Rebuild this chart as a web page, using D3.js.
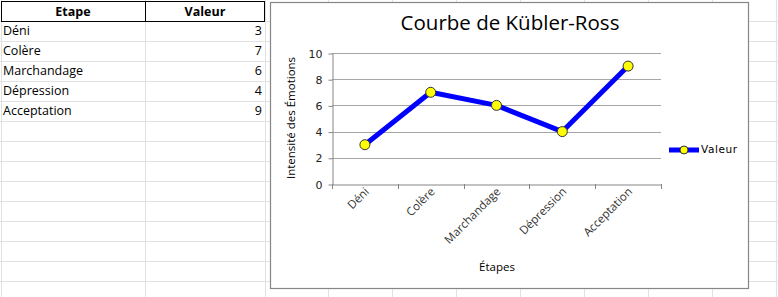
<!DOCTYPE html>
<html>
<head>
<meta charset="utf-8">
<script src="https://cdn.jsdelivr.net/npm/d3@7"></script>
<style>
  body { margin: 0; background: #fff; }
  svg text { font-family: "Open Sans", "Noto Sans", sans-serif; }
</style>
</head>
<body>
<svg id="canvas" width="778" height="297"></svg>
<script>
// données de la feuille
const ETAPES = ["Déni", "Colère", "Marchandage", "Dépression", "Acceptation"]
const VALEURS = [3, 7, 6, 4, 9]
const Y_TICKS = [0, 2, 4, 6, 8, 10]
const HEADERS = ["Etape", "Valeur"]

const TITLE = "Courbe de Kübler-Ross"
const Y_LABEL = "Intensité des Émotions"
const X_LABEL = "Étapes"
const SERIES = "Valeur"

const COL_EDGES = [1, 145, 265, 328, 392, 456, 520, 584, 648, 712, 776]
const ROW_H = 20

let canvas = d3.select('#canvas')

let drawSheet = () => {
    let grid = canvas.append('g').attr('stroke', '#e1e1e1').attr('stroke-width', 1)

    // lignes horizontales
    grid.selectAll('line.row')
        .data(d3.range(1, 15))
        .enter()
        .append('line')
        .attr('x1', 0)
        .attr('x2', 778)
        .attr('y1', (d) => d * ROW_H + 1.5)
        .attr('y2', (d) => d * ROW_H + 1.5)

    // lignes verticales
    grid.selectAll('line.col')
        .data(COL_EDGES)
        .enter()
        .append('line')
        .attr('x1', (d) => d + 0.5)
        .attr('x2', (d) => d + 0.5)
        .attr('y1', 0)
        .attr('y2', 297)

    // en-tête
    canvas.append('rect')
        .attr('x', 1.5).attr('y', 1.5)
        .attr('width', 263).attr('height', 20)
        .attr('fill', 'white').attr('stroke', '#000')
    canvas.append('line')
        .attr('x1', 145.5).attr('x2', 145.5)
        .attr('y1', 1.5).attr('y2', 21.5)
        .attr('stroke', '#000')

    canvas.selectAll('text.head')
        .data(HEADERS)
        .enter()
        .append('text')
        .attr('x', (d, i) => i === 0 ? 73 : 205)
        .attr('y', 16)
        .attr('text-anchor', 'middle')
        .attr('font-size', 12.5)
        .attr('font-weight', 'bold')
        .attr('fill', '#000')
        .text((d) => d)

    canvas.selectAll('text.etape')
        .data(ETAPES)
        .enter()
        .append('text')
        .attr('x', 3)
        .attr('y', (d, i) => 35 + i * ROW_H)
        .attr('font-size', 12.5)
        .attr('fill', '#000')
        .text((d) => d)

    canvas.selectAll('text.valeur')
        .data(VALEURS)
        .enter()
        .append('text')
        .attr('x', 262)
        .attr('y', (d, i) => 35 + i * ROW_H)
        .attr('text-anchor', 'end')
        .attr('font-size', 12.5)
        .attr('fill', '#000')
        .text((d) => d)
}

let drawChart = () => {
    // cadre du graphique
    canvas.append('rect')
        .attr('x', 270.5).attr('y', 2.5)
        .attr('width', 478).attr('height', 286)
        .attr('fill', 'white')
        .attr('stroke', '#868686')
        .attr('stroke-width', 1.2)

    let x = d3.scaleBand().domain(ETAPES).range([332, 661])
    let y = d3.scaleLinear().domain([0, 10]).range([184, 53])

    // quadrillage
    canvas.append('g')
        .selectAll('line')
        .data(Y_TICKS.filter((d) => d > 0))
        .enter()
        .append('line')
        .attr('x1', 332).attr('x2', 661)
        .attr('y1', (d) => Math.round(y(d)) + 0.5)
        .attr('y2', (d) => Math.round(y(d)) + 0.5)
        .attr('stroke', '#a6a6a6')
        .attr('stroke-width', 1.2)

    let yAxis = canvas.append('g')
        .attr('transform', 'translate(332.5,0.5)')
        .call(d3.axisLeft(y).tickValues(Y_TICKS).tickSize(4).tickPadding(6).tickSizeOuter(0))
    yAxis.selectAll('path, line').attr('stroke', '#868686')
    yAxis.selectAll('text').attr('fill', '#222')
        .style('font-family', '"DejaVu Sans", sans-serif').attr('font-size', 11)

    let xAxis = canvas.append('g')
        .attr('transform', 'translate(0,184.5)')
        .call(d3.axisBottom(x).tickSize(0).tickPadding(0))
    xAxis.select('.domain').attr('stroke', '#868686')
    xAxis.selectAll('text')
        .attr('font-size', 11.5)
        .attr('fill', '#333')
        .attr('text-anchor', 'end')
        .attr('y', 0)
        .attr('dy', '0.35em')
        .attr('transform', 'translate(2,5) rotate(-45)')

    // petits traits entre catégories
    let bounds = ETAPES.map((d) => x(d)).concat([x.range()[1]])
    canvas.append('g')
        .selectAll('line')
        .data(bounds)
        .enter()
        .append('line')
        .attr('x1', (d) => Math.round(d) + 0.5)
        .attr('x2', (d) => Math.round(d) + 0.5)
        .attr('y1', 184)
        .attr('y2', 189)
        .attr('stroke', '#868686')

    // courbe
    let line = d3.line()
        .x((d, i) => x(ETAPES[i]) + x.bandwidth() / 2)
        .y((d) => y(d))

    canvas.append('path')
        .datum(VALEURS)
        .attr('d', line)
        .attr('fill', 'none')
        .attr('stroke', '#0000ff')
        .attr('stroke-width', 5)
        .attr('stroke-linejoin', 'round')

    canvas.append('g')
        .selectAll('circle')
        .data(VALEURS)
        .enter()
        .append('circle')
        .attr('cx', (d, i) => x(ETAPES[i]) + x.bandwidth() / 2)
        .attr('cy', (d) => y(d))
        .attr('r', 5)
        .attr('fill', '#ffff00')
        .attr('stroke', '#333')
        .attr('stroke-width', 1)

    // titres
    canvas.append('text')
        .attr('x', 510).attr('y', 30)
        .attr('text-anchor', 'middle')
        .attr('font-size', 20.5)
        .attr('fill', '#000')
        .text(TITLE)

    canvas.append('text')
        .attr('transform', 'translate(295,118) rotate(-90)')
        .attr('text-anchor', 'middle')
        .attr('font-size', 11.5)
        .attr('fill', '#000')
        .text(Y_LABEL)

    canvas.append('text')
        .attr('x', 497).attr('y', 271)
        .attr('text-anchor', 'middle')
        .attr('font-size', 11.5)
        .attr('fill', '#000')
        .text(X_LABEL)

    // légende
    let legend = canvas.append('g').attr('transform', 'translate(669,150)')
    legend.append('line')
        .attr('x1', 0).attr('x2', 30)
        .attr('y1', 0).attr('y2', 0)
        .attr('stroke', '#0000ff').attr('stroke-width', 5)
    legend.append('circle')
        .attr('cx', 15).attr('cy', 0).attr('r', 4)
        .attr('fill', '#ffff00').attr('stroke', '#333')
    legend.append('text')
        .attr('x', 32).attr('y', 3)
        .attr('font-size', 10.5)
        .style('font-family', '"DejaVu Sans", sans-serif')
        .attr('letter-spacing', 0.6)
        .attr('fill', '#000')
        .text(SERIES)
}

drawSheet()
drawChart()
</script>
</body>
</html>
